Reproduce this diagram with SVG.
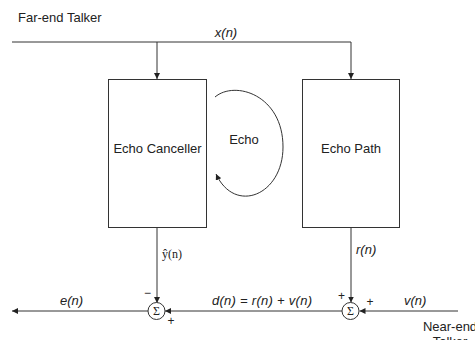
<svg xmlns="http://www.w3.org/2000/svg" width="475" height="340" viewBox="0 0 475 340">
<defs>
<style>
.ln{fill:none;stroke:#333;stroke-width:1}
.box{fill:#fff;stroke:#333;stroke-width:1}
.t{font-family:"Liberation Sans",Arial,sans-serif;font-size:13px;fill:#222}
.i{font-family:"Liberation Sans",Arial,sans-serif;font-size:13px;font-style:italic;fill:#222}
.s{font-family:"Liberation Serif","Times New Roman",serif;font-size:12px;fill:#222}
.sm{font-family:"Liberation Sans",Arial,sans-serif;font-size:12px;fill:#222}
</style>
<marker id="ah" viewBox="0 0 10 10" refX="10" refY="5" markerWidth="6" markerHeight="6" orient="auto" markerUnits="userSpaceOnUse">
<path d="M0,0 L10,5 L0,10 z" fill="#222"/>
</marker>
</defs>
<rect width="475" height="340" fill="#fff"/>
<g id="labels">
<text class="t" x="18" y="22">Far-end Talker</text>
<text class="i" x="226" y="37" text-anchor="middle">x(n)</text>
</g>
<g id="connectors">
<path class="ln" d="M12,42 H351"/>
<path class="ln" d="M157,42 V79" marker-end="url(#ah)"/>
<path class="ln" d="M351,42 V79" marker-end="url(#ah)"/>
<path class="ln" d="M215,97 C235,80 283,95 283,147 C283,195 235,215 216,174" marker-end="url(#ah)"/>
<path class="ln" d="M157,228 V303" marker-end="url(#ah)"/>
<path class="ln" d="M351,228 V302.5" marker-end="url(#ah)"/>
<path class="ln" d="M458,311 H359.5" marker-end="url(#ah)"/>
<path class="ln" d="M342,311 H165" marker-end="url(#ah)"/>
<path class="ln" d="M148,311 H12" marker-end="url(#ah)"/>
</g>
<g id="echo-canceller">
<rect class="box" x="108.5" y="79.5" width="98" height="148"/>
<text class="t" x="157.5" y="153" text-anchor="middle">Echo Canceller</text>
</g>
<g id="echo-path">
<rect class="box" x="302.5" y="79.5" width="97" height="148"/>
<text class="t" x="351" y="153" text-anchor="middle">Echo Path</text>
</g>
<g id="echo">
<text class="t" x="244" y="144" text-anchor="middle">Echo</text>
</g>
<g id="sum1">
<circle class="box" cx="156.5" cy="311" r="8.5"/>
<text class="s" x="156.5" y="315" text-anchor="middle" font-size="11">Σ</text>
<text class="sm" x="147.5" y="297" text-anchor="middle">−</text>
<text class="sm" x="171" y="325" text-anchor="middle" font-size="11">+</text>
</g>
<g id="sum2">
<circle class="box" cx="350.5" cy="311" r="8.5"/>
<text class="s" x="350.5" y="315" text-anchor="middle" font-size="11">Σ</text>
<text class="sm" x="341.5" y="300" text-anchor="middle" font-size="11">+</text>
<text class="sm" x="370" y="306" text-anchor="middle" font-size="11">+</text>
</g>
<g id="signal-labels">
<text class="s" x="162" y="258">ŷ(n)</text>
<text class="i" x="356" y="254">r(n)</text>
<text class="i" x="60" y="305">e(n)</text>
<text class="i" x="212" y="305" textLength="100">d(n) = r(n) + v(n)</text>
<text class="i" x="404" y="305">v(n)</text>
</g>
<g id="near-end">
<text class="t" x="450" y="331" text-anchor="middle">Near-end</text>
<text class="t" x="450" y="346" text-anchor="middle">Talker</text>
</g>
</svg>
